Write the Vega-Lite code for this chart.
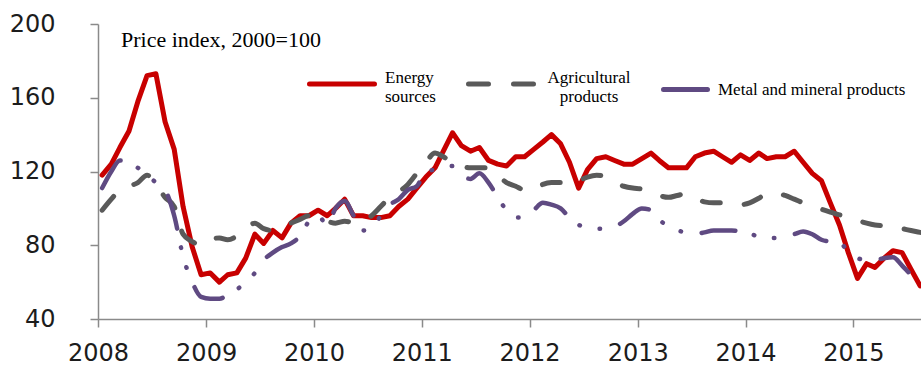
{
  "$schema": "https://vega.github.io/schema/vega-lite/v6.json",
  "autosize": "none",
  "width": 823,
  "height": 295,
  "padding": {"left": 98, "top": 24, "right": 0, "bottom": 48},
  "background": "white",
  "config": {
    "view": {"stroke": null},
    "axis": {
      "domainColor": "#8a8a8a",
      "domainWidth": 1.5,
      "tickColor": "#8a8a8a",
      "tickWidth": 1.5,
      "tickSize": 8,
      "grid": false,
      "title": null,
      "labelFont": "DejaVu Sans",
      "labelFontSize": 24,
      "labelColor": "#1c1c1c"
    }
  },
  "title": {
    "text": "Price index, 2000=100",
    "anchor": "start",
    "frame": "group",
    "offset": -40,
    "dx": 23,
    "font": "Liberation Serif",
    "fontSize": 22,
    "fontWeight": "normal",
    "color": "#000000"
  },
  "data": {
    "values": [
      {"date": "2008-01-15", "Energy sources": 118, "Agricultural products": 99, "Metal and mineral products": 111},
      {"date": "2008-02-15", "Energy sources": 124, "Agricultural products": 105, "Metal and mineral products": 120},
      {"date": "2008-03-15", "Energy sources": 133, "Agricultural products": 110, "Metal and mineral products": 126},
      {"date": "2008-04-15", "Energy sources": 142, "Agricultural products": 112, "Metal and mineral products": 125},
      {"date": "2008-05-15", "Energy sources": 158, "Agricultural products": 114, "Metal and mineral products": 122},
      {"date": "2008-06-15", "Energy sources": 172, "Agricultural products": 118, "Metal and mineral products": 118},
      {"date": "2008-07-15", "Energy sources": 173, "Agricultural products": 113, "Metal and mineral products": 114},
      {"date": "2008-08-15", "Energy sources": 147, "Agricultural products": 106, "Metal and mineral products": 110},
      {"date": "2008-09-15", "Energy sources": 132, "Agricultural products": 101, "Metal and mineral products": 96},
      {"date": "2008-10-15", "Energy sources": 101, "Agricultural products": 86, "Metal and mineral products": 74},
      {"date": "2008-11-15", "Energy sources": 79, "Agricultural products": 82, "Metal and mineral products": 60},
      {"date": "2008-12-15", "Energy sources": 64, "Agricultural products": 80, "Metal and mineral products": 52},
      {"date": "2009-01-15", "Energy sources": 65, "Agricultural products": 83, "Metal and mineral products": 51},
      {"date": "2009-02-15", "Energy sources": 60, "Agricultural products": 84, "Metal and mineral products": 51},
      {"date": "2009-03-15", "Energy sources": 64, "Agricultural products": 83, "Metal and mineral products": 53},
      {"date": "2009-04-15", "Energy sources": 65, "Agricultural products": 85, "Metal and mineral products": 56},
      {"date": "2009-05-15", "Energy sources": 73, "Agricultural products": 89, "Metal and mineral products": 60},
      {"date": "2009-06-15", "Energy sources": 86, "Agricultural products": 92, "Metal and mineral products": 65},
      {"date": "2009-07-15", "Energy sources": 81, "Agricultural products": 89, "Metal and mineral products": 72},
      {"date": "2009-08-15", "Energy sources": 88, "Agricultural products": 88, "Metal and mineral products": 76},
      {"date": "2009-09-15", "Energy sources": 84, "Agricultural products": 90, "Metal and mineral products": 79},
      {"date": "2009-10-15", "Energy sources": 92, "Agricultural products": 92, "Metal and mineral products": 81},
      {"date": "2009-11-15", "Energy sources": 96, "Agricultural products": 94, "Metal and mineral products": 85},
      {"date": "2009-12-15", "Energy sources": 96, "Agricultural products": 96, "Metal and mineral products": 93},
      {"date": "2010-01-15", "Energy sources": 99, "Agricultural products": 95, "Metal and mineral products": 96},
      {"date": "2010-02-15", "Energy sources": 96, "Agricultural products": 93, "Metal and mineral products": 91},
      {"date": "2010-03-15", "Energy sources": 100, "Agricultural products": 92, "Metal and mineral products": 100},
      {"date": "2010-04-15", "Energy sources": 105, "Agricultural products": 93, "Metal and mineral products": 104},
      {"date": "2010-05-15", "Energy sources": 96, "Agricultural products": 92.5, "Metal and mineral products": 96},
      {"date": "2010-06-15", "Energy sources": 96, "Agricultural products": 93, "Metal and mineral products": 88},
      {"date": "2010-07-15", "Energy sources": 95, "Agricultural products": 96, "Metal and mineral products": 89},
      {"date": "2010-08-15", "Energy sources": 95, "Agricultural products": 101, "Metal and mineral products": 96},
      {"date": "2010-09-15", "Energy sources": 96, "Agricultural products": 106, "Metal and mineral products": 102},
      {"date": "2010-10-15", "Energy sources": 101, "Agricultural products": 109, "Metal and mineral products": 105},
      {"date": "2010-11-15", "Energy sources": 105, "Agricultural products": 113, "Metal and mineral products": 110},
      {"date": "2010-12-15", "Energy sources": 111, "Agricultural products": 119, "Metal and mineral products": 112},
      {"date": "2011-01-15", "Energy sources": 117, "Agricultural products": 125, "Metal and mineral products": 120},
      {"date": "2011-02-15", "Energy sources": 122, "Agricultural products": 130, "Metal and mineral products": 121},
      {"date": "2011-03-15", "Energy sources": 131, "Agricultural products": 128, "Metal and mineral products": 122},
      {"date": "2011-04-15", "Energy sources": 141, "Agricultural products": 125, "Metal and mineral products": 123},
      {"date": "2011-05-15", "Energy sources": 134, "Agricultural products": 123, "Metal and mineral products": 118},
      {"date": "2011-06-15", "Energy sources": 131, "Agricultural products": 122, "Metal and mineral products": 116},
      {"date": "2011-07-15", "Energy sources": 133, "Agricultural products": 122, "Metal and mineral products": 119},
      {"date": "2011-08-15", "Energy sources": 126, "Agricultural products": 122, "Metal and mineral products": 114},
      {"date": "2011-09-15", "Energy sources": 124, "Agricultural products": 118, "Metal and mineral products": 106},
      {"date": "2011-10-15", "Energy sources": 123, "Agricultural products": 114, "Metal and mineral products": 99},
      {"date": "2011-11-15", "Energy sources": 128, "Agricultural products": 112, "Metal and mineral products": 95},
      {"date": "2011-12-15", "Energy sources": 128, "Agricultural products": 110, "Metal and mineral products": 95},
      {"date": "2012-01-15", "Energy sources": 132, "Agricultural products": 110, "Metal and mineral products": 99},
      {"date": "2012-02-15", "Energy sources": 136, "Agricultural products": 113, "Metal and mineral products": 103},
      {"date": "2012-03-15", "Energy sources": 140, "Agricultural products": 114, "Metal and mineral products": 102},
      {"date": "2012-04-15", "Energy sources": 135, "Agricultural products": 114, "Metal and mineral products": 100},
      {"date": "2012-05-15", "Energy sources": 125, "Agricultural products": 113.5, "Metal and mineral products": 95},
      {"date": "2012-06-15", "Energy sources": 111, "Agricultural products": 115, "Metal and mineral products": 91},
      {"date": "2012-07-15", "Energy sources": 121, "Agricultural products": 117, "Metal and mineral products": 90},
      {"date": "2012-08-15", "Energy sources": 127, "Agricultural products": 118, "Metal and mineral products": 89},
      {"date": "2012-09-15", "Energy sources": 128, "Agricultural products": 117, "Metal and mineral products": 89},
      {"date": "2012-10-15", "Energy sources": 126, "Agricultural products": 114, "Metal and mineral products": 90},
      {"date": "2012-11-15", "Energy sources": 124, "Agricultural products": 112, "Metal and mineral products": 93},
      {"date": "2012-12-15", "Energy sources": 124, "Agricultural products": 111, "Metal and mineral products": 97},
      {"date": "2013-01-15", "Energy sources": 127, "Agricultural products": 110.5, "Metal and mineral products": 100},
      {"date": "2013-02-15", "Energy sources": 130, "Agricultural products": 109, "Metal and mineral products": 99},
      {"date": "2013-03-15", "Energy sources": 126, "Agricultural products": 107, "Metal and mineral products": 94},
      {"date": "2013-04-15", "Energy sources": 122, "Agricultural products": 106, "Metal and mineral products": 90},
      {"date": "2013-05-15", "Energy sources": 122, "Agricultural products": 107, "Metal and mineral products": 88},
      {"date": "2013-06-15", "Energy sources": 122, "Agricultural products": 108, "Metal and mineral products": 87},
      {"date": "2013-07-15", "Energy sources": 128, "Agricultural products": 106, "Metal and mineral products": 86},
      {"date": "2013-08-15", "Energy sources": 130, "Agricultural products": 103.5, "Metal and mineral products": 87},
      {"date": "2013-09-15", "Energy sources": 131, "Agricultural products": 103, "Metal and mineral products": 88},
      {"date": "2013-10-15", "Energy sources": 128, "Agricultural products": 103, "Metal and mineral products": 88},
      {"date": "2013-11-15", "Energy sources": 125, "Agricultural products": 102.5, "Metal and mineral products": 88},
      {"date": "2013-12-15", "Energy sources": 129, "Agricultural products": 102, "Metal and mineral products": 87.5},
      {"date": "2014-01-15", "Energy sources": 126, "Agricultural products": 103, "Metal and mineral products": 86.5},
      {"date": "2014-02-15", "Energy sources": 130, "Agricultural products": 105.5, "Metal and mineral products": 84.5},
      {"date": "2014-03-15", "Energy sources": 127, "Agricultural products": 108, "Metal and mineral products": 84},
      {"date": "2014-04-15", "Energy sources": 128, "Agricultural products": 108, "Metal and mineral products": 84},
      {"date": "2014-05-15", "Energy sources": 128, "Agricultural products": 107, "Metal and mineral products": 84.5},
      {"date": "2014-06-15", "Energy sources": 131, "Agricultural products": 105, "Metal and mineral products": 86},
      {"date": "2014-07-15", "Energy sources": 125, "Agricultural products": 103, "Metal and mineral products": 87.5},
      {"date": "2014-08-15", "Energy sources": 119, "Agricultural products": 101, "Metal and mineral products": 86},
      {"date": "2014-09-15", "Energy sources": 115, "Agricultural products": 99.5, "Metal and mineral products": 83},
      {"date": "2014-10-15", "Energy sources": 103, "Agricultural products": 98, "Metal and mineral products": 82},
      {"date": "2014-11-15", "Energy sources": 91, "Agricultural products": 96.5, "Metal and mineral products": 81.5},
      {"date": "2014-12-15", "Energy sources": 76, "Agricultural products": 95.5, "Metal and mineral products": 76.5},
      {"date": "2015-01-15", "Energy sources": 62, "Agricultural products": 93.5, "Metal and mineral products": 73},
      {"date": "2015-02-15", "Energy sources": 70, "Agricultural products": 92, "Metal and mineral products": 72},
      {"date": "2015-03-15", "Energy sources": 68, "Agricultural products": 91, "Metal and mineral products": 72},
      {"date": "2015-04-15", "Energy sources": 73, "Agricultural products": 90.5, "Metal and mineral products": 73},
      {"date": "2015-05-15", "Energy sources": 77, "Agricultural products": 90, "Metal and mineral products": 73.5},
      {"date": "2015-06-15", "Energy sources": 76, "Agricultural products": 89, "Metal and mineral products": 69},
      {"date": "2015-07-15", "Energy sources": 67, "Agricultural products": 88, "Metal and mineral products": 64},
      {"date": "2015-08-15", "Energy sources": 58, "Agricultural products": 87, "Metal and mineral products": 60}
    ]
  },
  "transform": [
    {"fold": ["Energy sources", "Agricultural products", "Metal and mineral products"], "as": ["series", "value"]}
  ],
  "encoding": {
    "x": {
      "field": "date",
      "type": "temporal",
      "scale": {
        "type": "utc",
        "domain": [
          {"year": 2008, "month": 1, "date": 1, "utc": true},
          {"year": 2015, "month": 8, "date": 18, "utc": true}
        ]
      },
      "axis": {
        "format": "%Y",
        "values": [
          {"year": 2008, "month": 1, "date": 1, "utc": true},
          {"year": 2009, "month": 1, "date": 1, "utc": true},
          {"year": 2010, "month": 1, "date": 1, "utc": true},
          {"year": 2011, "month": 1, "date": 1, "utc": true},
          {"year": 2012, "month": 1, "date": 1, "utc": true},
          {"year": 2013, "month": 1, "date": 1, "utc": true},
          {"year": 2014, "month": 1, "date": 1, "utc": true},
          {"year": 2015, "month": 1, "date": 1, "utc": true}
        ],
        "labelPadding": 14,
        "labelFlush": false,
        "labelOverlap": false
      }
    },
    "y": {
      "field": "value",
      "type": "quantitative",
      "scale": {"domain": [40, 200], "nice": false, "zero": false},
      "axis": {"values": [40, 80, 120, 160, 200], "labelPadding": 35}
    },
    "color": {
      "field": "series",
      "type": "nominal",
      "scale": {
        "domain": ["Energy sources", "Agricultural products", "Metal and mineral products"],
        "range": ["#c80000", "#5a5a5a", "#5f4a82"]
      },
      "legend": {
        "orient": "none",
        "legendX": 209,
        "legendY": 25,
        "direction": "horizontal",
        "title": null,
        "symbolType": "stroke",
        "symbolSize": 4225,
        "symbolStrokeWidth": 5,
        "labelFont": "Liberation Serif",
        "labelFontSize": 17,
        "labelColor": "#000000",
        "labelOffset": 8,
        "labelLimit": 0,
        "columnPadding": 22,
        "labelExpr": "datum.label == 'Energy sources' ? ['Energy', 'sources'] : datum.label == 'Agricultural products' ? ['Agricultural', 'products'] : datum.label",
        "encode": {
          "symbols": {
            "update": {
              "strokeCap": {"value": "round"},
              "strokeDash": {"signal": "datum.value == 'Agricultural products' ? [20, 25] : [1, 0]"},
              "size": {"signal": "datum.value == 'Metal and mineral products' ? 1936 : 4225"},
              "x": {"signal": "datum.value == 'Metal and mineral products' ? datum.offset * 0.5 - 13.5 : datum.offset * 0.5"}
            }
          },
          "labels": {
            "update": {
              "align": {"signal": "datum.value == 'Agricultural products' ? 'center' : 'left'"},
              "dx": {"signal": "datum.value == 'Agricultural products' ? 45 : datum.value == 'Metal and mineral products' ? -24 : 0"},
              "dy": {"signal": "datum.value == 'Metal and mineral products' ? 0 : -6"}
            }
          }
        }
      }
    }
  },
  "layer": [
    {
      "transform": [{"filter": "datum.series == 'Energy sources'"}],
      "mark": {"type": "line", "strokeWidth": 5, "strokeCap": "round", "strokeJoin": "round", "clip": true}
    },
    {
      "transform": [{"filter": "datum.series == 'Agricultural products'"}],
      "mark": {"type": "line", "strokeWidth": 5, "strokeCap": "round", "interpolate": "monotone", "strokeDash": [18, 24], "clip": true}
    },
    {
      "transform": [{"filter": "datum.series == 'Metal and mineral products'"}],
      "mark": {"type": "line", "strokeWidth": 4.5, "strokeCap": "round", "interpolate": "monotone", "strokeDash": [34, 19, 0.5, 20, 0.5, 21], "clip": true}
    }
  ]
}
